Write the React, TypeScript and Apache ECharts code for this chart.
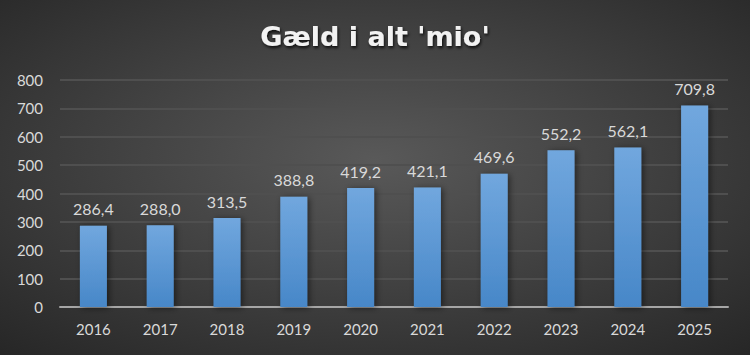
import React, { useEffect, useRef } from "react";
import * as echarts from "echarts";

const categories = ["2016", "2017", "2018", "2019", "2020", "2021", "2022", "2023", "2024", "2025"];
const values = [286.4, 288.0, 313.5, 388.8, 419.2, 421.1, 469.6, 552.2, 562.1, 709.8];
const title = "Gæld i alt 'mio'";

export default function App() {
  const ref = useRef<HTMLDivElement>(null);
  useEffect(() => {
    document.body.style.margin = "0";
    const chart = echarts.init(ref.current!, null, { renderer: "svg" });
    chart.setOption({
      animation: false,
      backgroundColor: new echarts.graphic.RadialGradient(0.5, 0.45, 0.75, [
        { offset: 0, color: "#595959" },
        { offset: 1, color: "#262626" },
      ]),
      title: {
        text: title,
        left: "center",
        top: 18,
        textStyle: {
          color: "#f2f2f2",
          fontSize: 27,
          fontWeight: "bold",
          fontFamily: "DejaVu Sans",
          textShadowColor: "rgba(0,0,0,0.8)",
          textShadowBlur: 3,
          textShadowOffsetX: 1,
          textShadowOffsetY: 2,
        },
      },
      grid: { left: 60, right: 22, top: 80, bottom: 48 },
      xAxis: {
        type: "category",
        data: categories,
        axisTick: { show: false },
        axisLine: { lineStyle: { color: "#a6a6a6", width: 2 } },
        axisLabel: { color: "#d9d9d9", fontSize: 15, fontFamily: "Lato", margin: 14 },
      },
      yAxis: {
        type: "value",
        min: 0,
        max: 800,
        interval: 100,
        axisLine: { show: false },
        axisTick: { show: false },
        splitLine: { lineStyle: { color: "#4f4f4f", width: 2 } },
        axisLabel: { color: "#d9d9d9", fontSize: 15, fontFamily: "Lato", margin: 17 },
      },
      series: [
        {
          type: "bar",
          data: values,
          barWidth: 27,
          itemStyle: {
            color: new echarts.graphic.LinearGradient(0, 0, 0, 1, [
              { offset: 0, color: "#71a7de" },
              { offset: 1, color: "#4787c8" },
            ]),
            shadowColor: "rgba(0,0,0,0.5)",
            shadowBlur: 6,
            shadowOffsetX: 2,
            shadowOffsetY: 1,
          },
          label: {
            show: true,
            position: "top",
            distance: 9,
            color: "#d9d9d9",
            fontSize: 16,
            fontFamily: "Lato",
            formatter: (p: any) => p.value.toFixed(1).replace(".", ","),
          },
        },
      ],
    });
    return () => chart.dispose();
  }, []);
  return <div ref={ref} style={{ width: 750, height: 355 }} />;
}
